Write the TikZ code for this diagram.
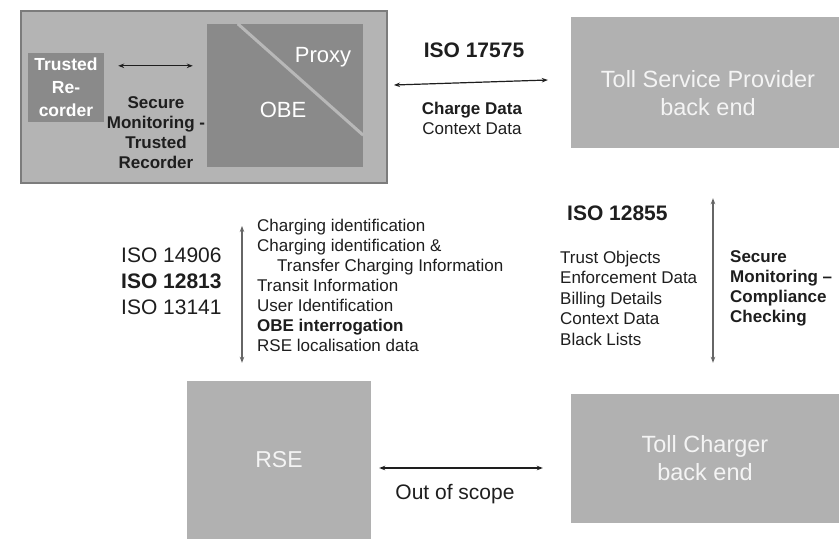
\documentclass[tikz,border=0pt]{standalone}
\usepackage{fontspec}
\setmainfont{Liberation Sans}
\usetikzlibrary{arrows.meta}
\definecolor{outerfill}{HTML}{B4B4B4}
\definecolor{outerline}{HTML}{7C7C7C}
\definecolor{darkbox}{HTML}{8A8A8A}
\definecolor{lightbox}{HTML}{B1B1B1}
\definecolor{diagcol}{HTML}{B8B8B8}
\definecolor{softwhite}{HTML}{F4F4F4}
\definecolor{txt}{HTML}{1E1E1E}
\definecolor{vline}{HTML}{666666}
\newcommand\myfs[2]{\fontsize{#1}{#2}\selectfont}
\tikzset{
  outerbox/.style={draw=outerline, line width=2pt, fill=outerfill, inner sep=0pt},
  darkrect/.style={fill=darkbox, inner sep=0pt, text=white},
  lightrect/.style={fill=lightbox, inner sep=0pt, text=softwhite},
  lbl/.style={inner sep=0pt, text=txt},
  arr/.style={{Stealth[length=6pt,width=4.5pt]}-{Stealth[length=6pt,width=4.5pt]}, line width=1.2pt, draw=txt},
  varr/.style={{Stealth[length=6pt,width=4.5pt]}-{Stealth[length=6pt,width=4.5pt]}, line width=1.2pt, draw=vline},
}
\begin{document}
\begin{tikzpicture}[x=1pt,y=-1pt]
\useasboundingbox (0,0) rectangle (839,539);
\fill[white] (0,0) rectangle (839,539);

% top-left group
\node[outerbox, minimum width=366pt, minimum height=172pt] (outer) at (204,97) {};
\node[darkrect, minimum width=76pt, minimum height=69pt, align=center,
      font=\myfs{17.5}{23}\bfseries] (rec) at (66,87.5) {Trusted\\Re-\\corder};
\node[darkrect, minimum width=156pt, minimum height=143pt] (obe) at (285,95.5) {};
\draw[diagcol, line width=3pt] ([xshift=31pt]obe.north west) -- ([yshift=32pt]obe.south east);
\node[inner sep=0pt, text=white, font=\myfs{22}{26}] (proxy) at (323,57) {Proxy};
\node[inner sep=0pt, text=white, font=\myfs{22}{26}] (obetxt) at (283,110) {OBE};
\node[lbl, align=center, font=\myfs{17}{20}\bfseries] (smtr) at (156,133)
  {Secure\\Monitoring -\\Trusted\\Recorder};
\draw[arr] ([xshift=14pt,yshift=-13pt]rec.north east) -- ([xshift=-14pt,yshift=-42pt]obe.north west);

% top-right
\node[lightrect, minimum width=268pt, minimum height=131pt] (tsp) at (705,82.5) {};
\node[inner sep=0pt, text=softwhite, align=center, font=\myfs{23.5}{28}] (tsptxt)
  at ([xshift=3pt,yshift=-11pt]tsp.center) {Toll Service Provider\\back end};
\node[lbl, font=\myfs{21}{24}\bfseries] (iso17575) at (474,50) {ISO 17575};
\node[lbl, align=center, font=\myfs{17}{20}] (cdata) at (472,118)
  {\textbf{Charge Data}\\Context Data};
\draw[arr] ([xshift=6pt,yshift=-2.5pt]outer.east |- tsp.west) -- ([xshift=-23pt,yshift=2.5pt]tsp.west);

% bottom boxes
\node[lightrect, minimum width=184pt, minimum height=158pt, font=\myfs{23}{28}] (rse) at (279,460) {RSE};
\node[lightrect, minimum width=268pt, minimum height=129pt, align=center, font=\myfs{23.5}{28}] (tc) at (705,458.5)
  {\raisebox{-3.5pt}{\parbox{200pt}{\centering Toll Charger\\back end}}};
\node[lbl, font=\myfs{21}{24}] (oos) at (455,494) {Out of scope};
\draw[arr] ([xshift=8pt,yshift=-8pt]rse.east) -- ([xshift=-28pt,yshift=-9.5pt]tc.west);

% middle left
\node[lbl, anchor=west, align=left, font=\myfs{21}{26}] (isoleft) at (121,281)
  {ISO 14906\\\textbf{ISO 12813}\\ISO 13141};
\node[lbl, anchor=west, align=left, font=\myfs{17}{20}] (leftlist) at (257,285)
  {Charging identification\\
   Charging identification \&\\
   \hspace*{20pt}Transfer Charging Information\\
   Transit Information\\
   User Identification\\
   \textbf{OBE interrogation}\\
   RSE localisation data};
\draw[varr] ([xshift=38pt,yshift=-42pt]outer.south) -- ([xshift=-37pt,yshift=18pt]rse.north);

% middle right
\node[lbl, anchor=west, font=\myfs{21}{24}\bfseries] (iso12855) at (567,213) {ISO 12855};
\node[lbl, anchor=west, align=left, font=\myfs{17}{20.5}] (rightlist) at (560,298)
  {Trust Objects\\Enforcement Data\\Billing Details\\Context Data\\Black Lists};
\node[lbl, anchor=west, align=left, font=\myfs{17}{20}\bfseries] (smcc) at (730,288)
  {Secure\\Monitoring --\\Compliance\\Checking};
\draw[varr] ([xshift=8pt,yshift=-50pt]tsp.south) -- ([xshift=8pt,yshift=31pt]tc.north);
\end{tikzpicture}
\end{document}
